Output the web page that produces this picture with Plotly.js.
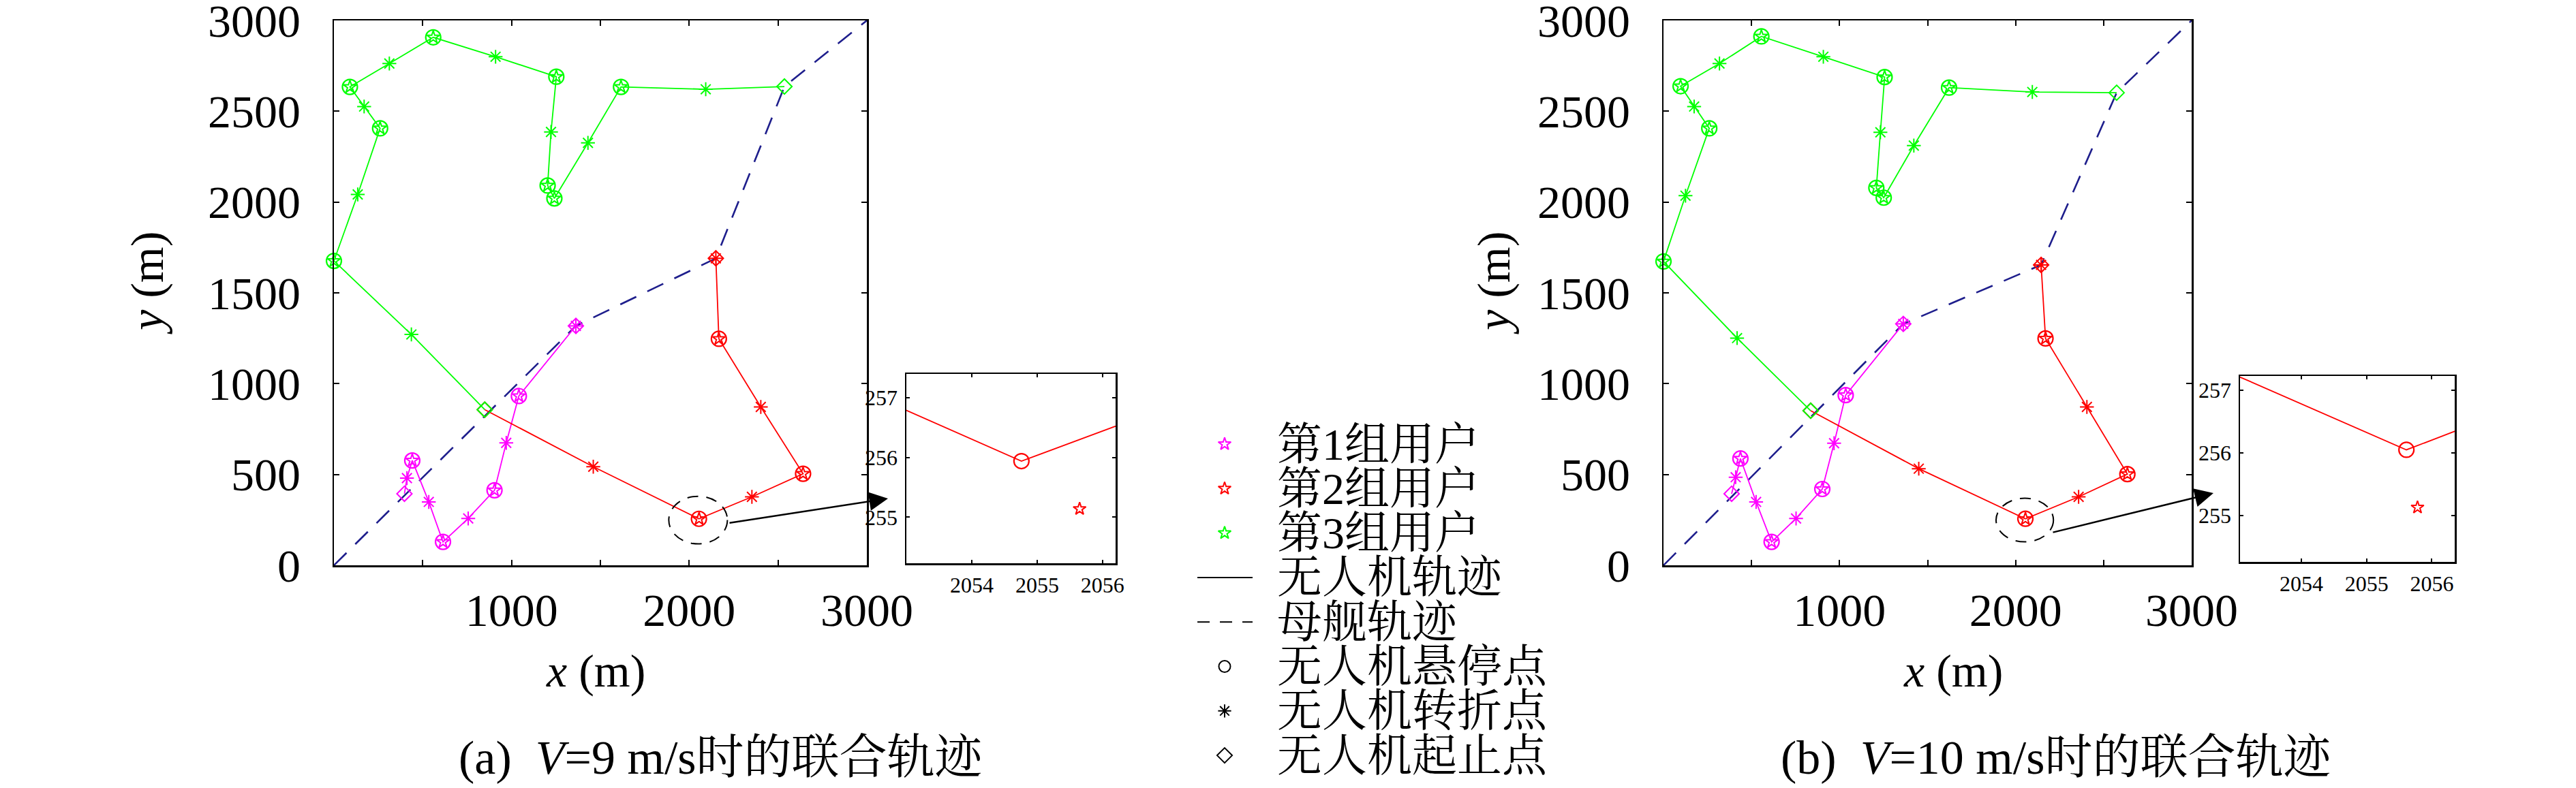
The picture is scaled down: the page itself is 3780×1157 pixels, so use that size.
<!DOCTYPE html>
<html>
<head>
<meta charset="utf-8">
<script src="https://cdn.plot.ly/plotly-3.0.1.min.js"></script>
<style>html,body{margin:0;padding:0;background:#fff;}#chart{width:3780px;height:1157px;}</style>
</head>
<body>
<div id="chart"></div>
<script>
// ---------------- DATA ----------------
// Panel (a): V = 9 m/s   (type: d = start/end, t = turn, h = hover)
const a_g1_x = [397, 411, 441, 534, 614, 756, 904, 970, 1041, 1362];
const a_g1_y = [394, 480, 577, 349, 129, 258, 413, 674, 932, 1318];
const a_g1_t = ['d','t','h','t','h','t','h','t','h','dt'];
const a_g2_x = [2150, 2167, 2403, 2641, 2353, 2054.76, 1460, 849];
const a_g2_y = [1690, 1247, 872, 504, 377, 255.94, 543, 857];
const a_g2_t = ['dt','h','t','h','t','h','t','d'];
const a_g3_x = [849, 436, 0, 134, 260, 170, 90, 312, 559, 910, 1252, 1222, 1203, 1241, 1430, 1616, 2093, 2536];
const a_g3_y = [857, 1271, 1676, 2042, 2406, 2526, 2634, 2763, 2907, 2800, 2690, 2386, 2091, 2020, 2326, 2634, 2621, 2636];
const a_g3_t = ['d','t','h','t','h','t','h','t','h','t','h','t','h','h','t','h','t','d'];
const a_u1_x = [441, 614, 904, 1041];
const a_u1_y = [577, 129, 413, 932];
const a_u2_x = [2167, 2641, 2055.65];
const a_u2_y = [1247, 504, 255.14];
const a_u3_x = [0, 260, 90, 559, 1252, 1203, 1241, 1616];
const a_u3_y = [1676, 2406, 2634, 2907, 2690, 2091, 2020, 2634];
const a_ship_x = [0, 1362, 2150, 2536, 3000];
const a_ship_y = [0, 1318, 1690, 2636, 3000];

// Panel (b): V = 10 m/s
const b_g1_x = [387, 410, 437, 526, 614, 753, 902, 969, 1035, 1362];
const b_g1_y = [394, 485, 588, 349, 129, 258, 420, 672, 937, 1329];
const b_g1_t = ['d','t','h','t','h','t','h','t','h','dt'];
const b_g2_x = [2145, 2170, 2405, 2635, 2358, 2055.61, 1450, 836];
const b_g2_y = [1654, 1249, 872, 502, 377, 256.05, 532, 851];
const b_g2_t = ['dt','h','t','h','t','h','t','d'];
const b_g3_x = [836, 418, 0, 125, 260, 174, 97, 318, 556, 908, 1256, 1232, 1209, 1251, 1422, 1622, 2095, 2574];
const b_g3_y = [851, 1251, 1673, 2035, 2406, 2526, 2638, 2763, 2912, 2800, 2688, 2384, 2078, 2024, 2311, 2630, 2606, 2602];
const b_g3_t = ['d','t','h','t','h','t','h','t','h','t','h','t','h','h','t','h','t','d'];
const b_u1_x = [437, 614, 902, 1035];
const b_u1_y = [588, 129, 420, 937];
const b_u2_x = [2170, 2635, 2055.78];
const b_u2_y = [1249, 502, 255.13];
const b_u3_x = [0, 260, 97, 556, 1256, 1209, 1251, 1622];
const b_u3_y = [1673, 2406, 2638, 2912, 2688, 2078, 2024, 2630];
const b_ship_x = [0, 1362, 2145, 2574, 3000];
const b_ship_y = [0, 1329, 1654, 2602, 3000];

// Ticks
const mainTicks = [0, 500, 1000, 1500, 2000, 2500, 3000];
const mainXText = ['', '', '1000', '', '2000', '', '3000'];
const mainYText = ['0', '500', '1000', '1500', '2000', '2500', '3000'];
const insetXTicks = [2054, 2055, 2056];
const insetYTicks = [255, 256, 257];
const insetA_xr = [2053.0, 2056.2], insetA_yr = [254.23, 257.4];
const insetB_xr = [2053.06, 2056.35], insetB_yr = [254.26, 257.23];

// Text
const legendLabels = ['第1组用户', '第2组用户', '第3组用户', '无人机轨迹', '母舰轨迹', '无人机悬停点', '无人机转折点', '无人机起止点'];
const captionA = '(a)  <i>V</i>=9 m/s时的联合轨迹';
const captionB = '(b)  <i>V</i>=10 m/s时的联合轨迹';

// ---------------- STYLE / LAYOUT ----------------
const W = 3780, H = 1157;
const px = v => v / W;
const py = v => 1 - v / H;
const FONT = '"Liberation Serif", "Noto Serif CJK SC", "Noto Sans CJK SC", serif';
const COL = ['#ff00ff', '#ff0000', '#00ff00'];
const SHIP = '#1e1e8c';

function pick(xs, ys, ts, key) {
  const ox = [], oy = [];
  ts.forEach((t, i) => { if (t.indexOf(key) >= 0) { ox.push(xs[i]); oy.push(ys[i]); } });
  return [ox, oy];
}

function groupTraces(xs, ys, ts, color, xa, ya, clip) {
  const out = [];
  out.push({x: xs, y: ys, xaxis: xa, yaxis: ya, mode: 'lines', type: 'scatter', cliponaxis: clip,
            line: {color: color, width: 1.8}, hoverinfo: 'skip'});
  const h = pick(xs, ys, ts, 'h');
  out.push({x: h[0], y: h[1], xaxis: xa, yaxis: ya, mode: 'markers', type: 'scatter', cliponaxis: clip,
            marker: {symbol: 'circle-open', size: 22, color: color, line: {width: 2.2, color: color}}});
  const t = pick(xs, ys, ts, 't');
  out.push({x: t[0], y: t[1], xaxis: xa, yaxis: ya, mode: 'markers', type: 'scatter', cliponaxis: clip,
            marker: {symbol: 'asterisk-open', size: 17, color: color, line: {width: 2, color: color}}});
  const d = pick(xs, ys, ts, 'd');
  out.push({x: d[0], y: d[1], xaxis: xa, yaxis: ya, mode: 'markers', type: 'scatter', cliponaxis: clip,
            marker: {symbol: 'diamond-open', size: 17, color: color, line: {width: 2, color: color}}});
  return out;
}
function userTrace(xs, ys, color, xa, ya, clip) {
  return {x: xs, y: ys, xaxis: xa, yaxis: ya, mode: 'markers', type: 'scatter', cliponaxis: clip,
          marker: {symbol: 'star-open', size: 14, color: color, line: {width: 2, color: color}}};
}
function shipTrace(xs, ys, xa, ya) {
  return {x: xs, y: ys, xaxis: xa, yaxis: ya, mode: 'lines', type: 'scatter', cliponaxis: false,
          line: {color: SHIP, width: 2.6, dash: '26px,18px'}};
}

const traces = [];
// panel a main
traces.push(shipTrace(a_ship_x, a_ship_y, 'x', 'y'));
[[a_g1_x,a_g1_y,a_g1_t],[a_g2_x,a_g2_y,a_g2_t],[a_g3_x,a_g3_y,a_g3_t]].forEach((g, i) =>
  traces.push(...groupTraces(g[0], g[1], g[2], COL[i], 'x', 'y', false)));
traces.push(userTrace(a_u1_x, a_u1_y, COL[0], 'x', 'y', false));
traces.push(userTrace(a_u2_x, a_u2_y, COL[1], 'x', 'y', false));
traces.push(userTrace(a_u3_x, a_u3_y, COL[2], 'x', 'y', false));
// panel a inset
traces.push(...groupTraces(a_g2_x, a_g2_y, a_g2_t, COL[1], 'x2', 'y2', true).slice(0, 2));
traces.push(userTrace(a_u2_x, a_u2_y, COL[1], 'x2', 'y2', true));
// panel b main
traces.push(shipTrace(b_ship_x, b_ship_y, 'x3', 'y3'));
[[b_g1_x,b_g1_y,b_g1_t],[b_g2_x,b_g2_y,b_g2_t],[b_g3_x,b_g3_y,b_g3_t]].forEach((g, i) =>
  traces.push(...groupTraces(g[0], g[1], g[2], COL[i], 'x3', 'y3', false)));
traces.push(userTrace(b_u1_x, b_u1_y, COL[0], 'x3', 'y3', false));
traces.push(userTrace(b_u2_x, b_u2_y, COL[1], 'x3', 'y3', false));
traces.push(userTrace(b_u3_x, b_u3_y, COL[2], 'x3', 'y3', false));
// panel b inset
traces.push(...groupTraces(b_g2_x, b_g2_y, b_g2_t, COL[1], 'x4', 'y4', true).slice(0, 2));
traces.push(userTrace(b_u2_x, b_u2_y, COL[1], 'x4', 'y4', true));

// legend (drawn on an auxiliary hidden axis, one row per label)
const LX = 0.475;
const legSym = [
  {symbol: 'star-open', color: COL[0], size: 14},
  {symbol: 'star-open', color: COL[1], size: 14},
  {symbol: 'star-open', color: COL[2], size: 14},
  null, null,
  {symbol: 'circle-open', color: '#000', size: 17},
  {symbol: 'asterisk-open', color: '#000', size: 16},
  {symbol: 'diamond-open', color: '#000', size: 17}
];
legSym.forEach((s, i) => {
  if (!s) return;
  traces.push({x: [LX], y: [i + 0.5], xaxis: 'x5', yaxis: 'y5', mode: 'markers', type: 'scatter', cliponaxis: false,
               marker: {symbol: s.symbol, size: s.size, color: s.color, line: {width: 2, color: s.color}}});
});
traces.push({x: [0.142, 0.817], y: [3.5, 3.5], xaxis: 'x5', yaxis: 'y5', mode: 'lines', type: 'scatter', cliponaxis: false,
             line: {color: '#000', width: 2}});
traces.push({x: [0.142, 0.817], y: [4.5, 4.5], xaxis: 'x5', yaxis: 'y5', mode: 'lines', type: 'scatter', cliponaxis: false,
             line: {color: '#000', width: 2, dash: '18px,15px'}});

function axis(domain, range, tickvals, ticktext, size, anchor, standoff, len) {
  return {domain: domain, range: range, anchor: anchor, tickmode: 'array', tickvals: tickvals, ticktext: ticktext,
          ticks: 'inside', ticklen: len, tickwidth: 2, tickcolor: '#000', showline: true, linecolor: '#000',
          linewidth: 2.5, mirror: 'ticks', showgrid: false, zeroline: false, fixedrange: true,
          ticklabeloverflow: 'allow',
          tickfont: {family: FONT, size: size, color: '#000'}, ticklabelstandoff: standoff};
}

const yDom = [py(830), py(30)];
const layout = {
  width: W, height: H, margin: {l: 0, r: 0, t: 0, b: 0, pad: 0},
  paper_bgcolor: '#fff', plot_bgcolor: 'rgba(0,0,0,0)', showlegend: false,
  xaxis:  axis([px(490), px(1272)], [0, 3000], mainTicks, mainXText, 68, 'y', 5, 8),
  yaxis:  axis(yDom, [0, 3000], mainTicks, mainYText, 68, 'x', 33, 8),
  xaxis2: axis([px(1330), px(1637)], insetA_xr, insetXTicks, insetXTicks.map(String), 32, 'y2', 2, 5),
  yaxis2: axis([py(827), py(549)], insetA_yr, insetYTicks, insetYTicks.map(String), 32, 'x2', 4, 5),
  xaxis3: axis([px(2441), px(3216)], [0, 3000], mainTicks, mainXText, 68, 'y3', 5, 8),
  yaxis3: axis(yDom, [0, 3000], mainTicks, mainYText, 68, 'x3', 33, 8),
  xaxis4: axis([px(3287), px(3602)], insetB_xr, insetXTicks, insetXTicks.map(String), 32, 'y4', 2, 5),
  yaxis4: axis([py(825), py(552)], insetB_yr, insetYTicks, insetYTicks.map(String), 32, 'x4', 4, 5),
  xaxis5: {domain: [px(1740), px(1860)], range: [0, 1], visible: false, fixedrange: true, anchor: 'y5'},
  yaxis5: {domain: [py(619.35 + 8 * 65.3), py(619.35)], range: [8, 0], visible: false, fixedrange: true, anchor: 'x5'},
  shapes: [
    {type: 'circle', xref: 'x', yref: 'y', x0: 1885, x1: 2215, y0: 118, y1: 380,
     line: {color: '#000', width: 2, dash: '16px,12px'}},
    {type: 'circle', xref: 'x3', yref: 'y3', x0: 1889, x1: 2215, y0: 129, y1: 369,
     line: {color: '#000', width: 2, dash: '16px,12px'}}
  ],
  annotations: []
};

const A = layout.annotations;
const tf = (s) => ({family: FONT, size: s, color: '#000'});
// axis titles
A.push({xref: 'paper', yref: 'paper', x: px(874), y: py(985), text: '<i>x</i> (m)', showarrow: false, font: tf(68), xanchor: 'center', yanchor: 'middle'});
A.push({xref: 'paper', yref: 'paper', x: px(2866), y: py(985), text: '<i>x</i> (m)', showarrow: false, font: tf(68), xanchor: 'center', yanchor: 'middle'});
A.push({xref: 'paper', yref: 'paper', x: px(216), y: py(416), text: '<i>y</i> (m)', textangle: -90, showarrow: false, font: tf(68), xanchor: 'center', yanchor: 'middle'});
A.push({xref: 'paper', yref: 'paper', x: px(2192), y: py(416), text: '<i>y</i> (m)', textangle: -90, showarrow: false, font: tf(68), xanchor: 'center', yanchor: 'middle'});
// captions
A.push({xref: 'paper', yref: 'paper', x: px(1058), y: py(1112), text: captionA, showarrow: false, font: tf(70), xanchor: 'center', yanchor: 'middle'});
A.push({xref: 'paper', yref: 'paper', x: px(3017), y: py(1112), text: captionB, showarrow: false, font: tf(70), xanchor: 'center', yanchor: 'middle'});
// legend labels
legendLabels.forEach((t, i) => A.push({xref: 'paper', yref: 'y5', x: px(1872), y: i + 0.5, text: t, showarrow: false,
  font: tf(66), xanchor: 'left', yanchor: 'middle'}));
// zoom arrows
A.push({xref: 'paper', yref: 'paper', x: px(1303), y: py(732), ax: 1069 - 1303, ay: 768 - 732, text: '', showarrow: true,
  arrowhead: 2, arrowsize: 2.2, arrowwidth: 2.5, arrowcolor: '#000', standoff: 0, startstandoff: 0});
A.push({xref: 'paper', yref: 'paper', x: px(3248), y: py(724), ax: 3011 - 3248, ay: 782 - 724, text: '', showarrow: true,
  arrowhead: 2, arrowsize: 2.2, arrowwidth: 2.5, arrowcolor: '#000', standoff: 0, startstandoff: 0});

Plotly.newPlot('chart', traces, layout, {displayModeBar: false, staticPlot: true});
</script>
</body>
</html>
